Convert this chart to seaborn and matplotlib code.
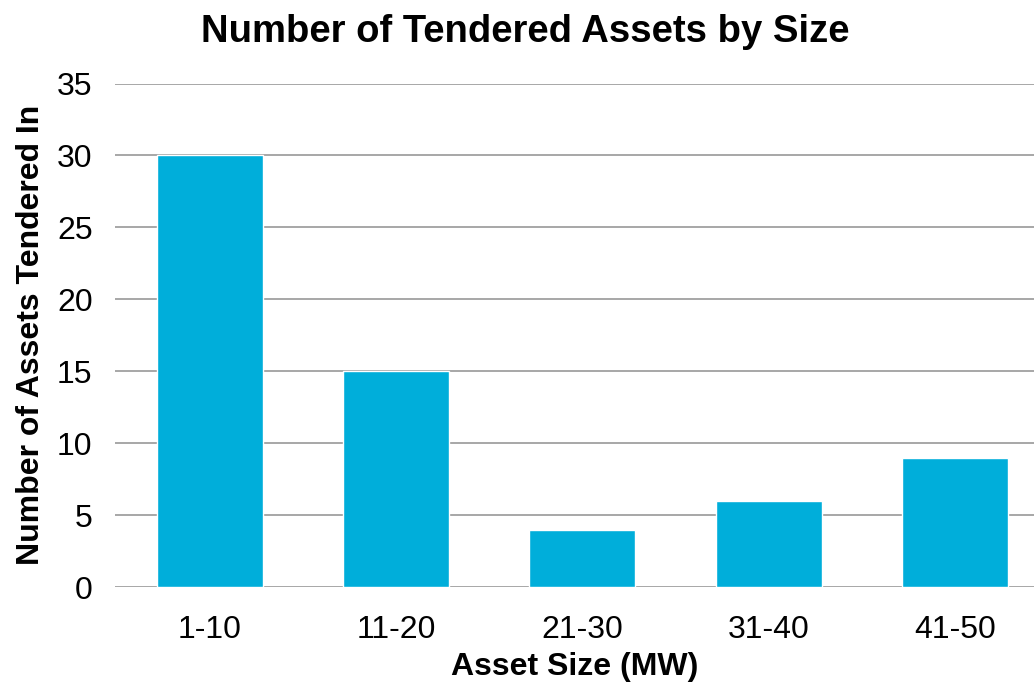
import matplotlib
matplotlib.use("Agg")
import matplotlib.pyplot as plt
import seaborn as sns
import pandas as pd

# data
sizes = ["1-10", "11-20", "21-30", "31-40", "41-50"]
counts = [30, 15, 4, 6, 9]

df = pd.DataFrame({"size": sizes, "count": counts})

sns.set_theme(style="white")
plt.rcParams['font.family'] = ['Liberation Sans', 'DejaVu Sans']
plt.rcParams['text.color'] = 'black'
plt.rcParams['axes.labelcolor'] = 'black'

fig = plt.figure(figsize=(10.34, 6.85), dpi=100)
ax = fig.add_axes([0.111, 0.143, 0.889, 0.735])

sns.barplot(data=df, x="size", y="count", color="#00AEDA", saturation=1,
            width=0.57, ax=ax, zorder=3)

ax.set_ylim(0, 35)
ax.set_yticks(range(0, 36, 5))
ax.set_xlim(-0.51, 4.424)
ax.grid(axis="y", color="#A0A0A0", linewidth=1.3, zorder=0)
for s in ["top", "right", "left", "bottom"]:
    ax.spines[s].set_visible(False)
ax.tick_params(axis="both", length=0, labelsize=23, colors="black")
ax.tick_params(axis="x", pad=20)
ax.tick_params(axis="y", pad=16)

ax.set_xlabel("Asset Size (MW)", fontsize=23, fontweight="bold", labelpad=5)
ax.set_ylabel("Number of Assets Tendered In", fontsize=23, fontweight="bold", labelpad=8)
fig.suptitle("Number of Tendered Assets by Size", fontsize=27.5, fontweight="bold",
             x=0.508, y=0.98)

fig.savefig("out.png", dpi=100)
